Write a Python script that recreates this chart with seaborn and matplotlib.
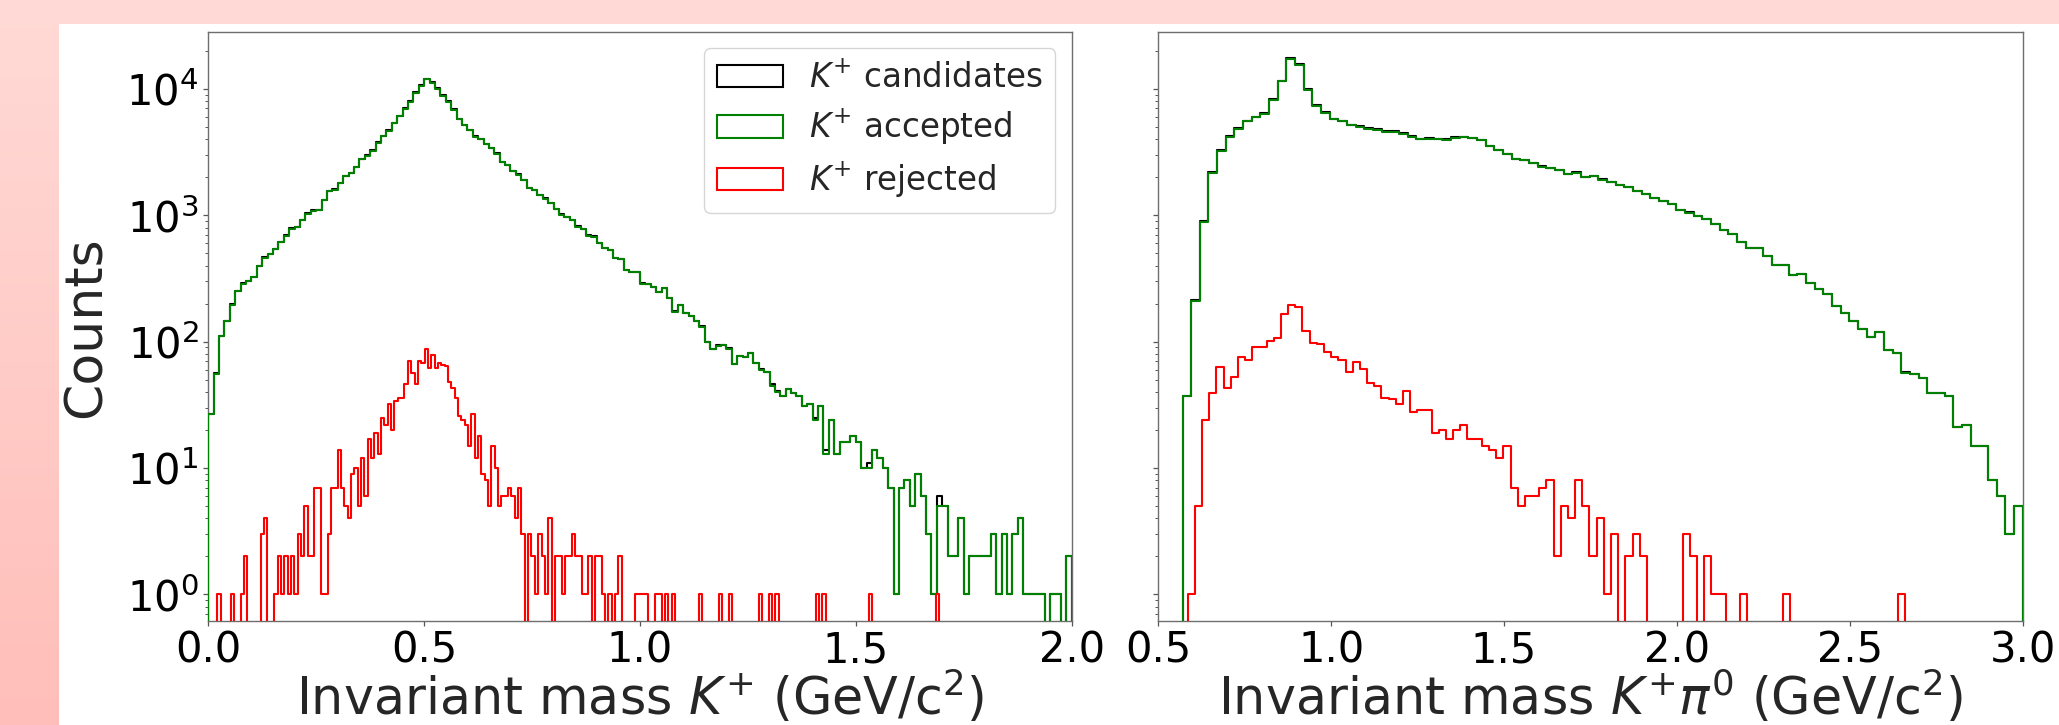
import numpy as np
import pandas as pd
import matplotlib
matplotlib.use("Agg")
import matplotlib.pyplot as plt
from matplotlib.patches import Patch, Rectangle
import seaborn as sns

# ---------------- data (counts per bin) ----------------
# Left panel: invariant mass K+ ; accepted binned 0.0 .. 2.0
left_acc_range = (0.0, 2.0)
left_accepted = [
    27, 56, 110, 145, 196, 253, 287, 301, 323, 397, 457, 490, 543, 615, 692, 785, 807, 914, 1028, 1087,
    1102, 1320, 1560, 1592, 1791, 2028, 2144, 2414, 2772, 2951, 3250, 3736, 4203, 4664, 5357, 6070, 6925, 7848, 9333, 10570,
    11890, 11100, 10000, 8830, 7850, 6830, 5740, 5170, 4730, 4200, 4000, 3660, 3410, 3075, 2640, 2500, 2250, 2100, 1892, 1648,
    1592, 1435, 1357, 1249, 1125, 1014, 966, 914, 812, 779, 692, 678, 603, 551, 535, 457, 450, 366, 353, 358,
    287, 287, 271, 245, 266, 220, 173, 195, 169, 161, 145, 131, 99, 88, 93, 94, 88, 67, 77, 75,
    82, 68, 60, 58, 45, 40, 37, 42, 39, 37, 31, 32, 24, 31, 13, 24, 13, 16, 16, 18,
    16, 10, 10, 14, 12, 10, 7, 1, 7, 8, 5, 9, 6, 3, 1, 5, 5, 2, 2, 4,
    1, 2, 2, 2, 2, 3, 1, 3, 1, 3, 4, 1, 1, 1, 1, 0, 1, 1, 0, 2,
]
# Left panel: rejected binned 0.021 .. 1.693
left_rej_range = (0.021, 1.693)
left_rejected = [
    1, 0, 0, 0, 1, 0, 0, 1, 2, 0, 0, 0, 0, 3, 4, 0, 0, 1, 2, 1,
    2, 1, 2, 1, 3, 2, 5, 2, 2, 7, 7, 1, 1, 3, 7, 7, 14, 7, 5, 4,
    9, 10, 5, 12, 6, 17, 12, 19, 13, 25, 22, 32, 20, 34, 36, 36,
    46, 70, 57, 46, 70, 68, 88, 62, 78, 62, 68, 65, 64, 48, 43,
    36, 26, 24, 22, 15, 27, 12, 18, 9, 8, 5, 15, 10, 5, 6,
    6, 7, 6, 4, 7, 3, 0, 3, 2, 1, 3, 2, 1, 4, 0,
    2, 2, 1, 2, 2, 3, 2, 2, 1, 1, 2, 0, 2, 2, 1,
    0, 1, 0, 1, 2, 0, 0, 0, 0, 1, 1,
    1, 1, 0, 0, 1, 1, 0, 1, 0, 1,
    0, 0, 0, 0, 0, 0, 0, 1, 0, 0,
    0, 0, 0, 1, 0, 0, 1, 0, 0, 0,
    0, 0, 0, 0, 0, 1, 0, 0, 1, 0,
    1, 0, 0, 0, 0, 0, 0, 0, 0, 0,
    0, 0, 1, 0, 1, 0, 0, 0, 0, 0,
    0, 0, 0, 0, 0, 0, 0, 0, 1, 0,
    0, 0, 0, 0, 0, 0, 0, 0, 0, 0,
    0, 0, 0, 0, 0, 0, 0, 0, 1,
]
# Right panel: invariant mass K+ pi0 ; accepted binned 0.570 .. 3.0
right_acc_range = (0.570, 3.0)
right_accepted = [
    37, 209, 883, 2175, 3250, 4143, 4830, 5545, 5945, 6370, 8120, 11480, 17400, 15480, 9860, 7310, 6460, 5740, 5545, 5170,
    5000, 4830, 4730, 4600, 4600, 4415, 4200, 4000, 4050, 4000, 3975, 4115, 4140, 4090, 3920, 3535, 3297, 3034, 2772, 2715,
    2587, 2430, 2363, 2297, 2129, 2175, 2000, 2028, 1919, 1829, 1730, 1671, 1559, 1485, 1367, 1292, 1231, 1109, 1050, 993,
    933, 853, 769, 717, 615, 551, 555, 473, 406, 406, 334, 341, 291, 259, 240, 192, 169, 145, 127, 109,
    120, 86, 82, 57, 56, 52, 39, 39, 37, 21, 22, 15, 15, 8, 6, 3, 5,
]
# Right panel: rejected binned 0.585 .. 2.660
right_rej_range = (0.585, 2.660)
right_rejected = [
    1, 5, 24, 39, 63, 43, 53, 75, 71, 91, 91, 101, 106, 165, 195, 188, 122, 98, 96, 83,
    75, 71, 58, 69, 61, 47, 45, 36, 35, 32, 41, 28, 29, 29, 19, 20, 17, 20, 22, 17,
    17, 15, 14, 12, 15, 7, 5, 6, 6, 7, 8, 2, 5, 4, 8, 5, 2, 4, 1, 3,
    0, 2, 3, 2, 0, 0, 0, 0, 0, 3, 2, 0, 2, 1, 1, 0, 0, 1, 0, 0,
    0, 0, 0, 1, 0, 0, 0, 0, 0, 0, 0, 0, 0, 0, 0, 0, 0, 0, 0, 1,
]

legend_labels = [r"$K^{+}$ candidates", r"$K^{+}$ accepted", r"$K^{+}$ rejected"]
x_labels = [r"Invariant mass $K^{+}$ (GeV/c$^{2}$)",
            r"Invariant mass $K^{+}\pi^{0}$ (GeV/c$^{2}$)"]
y_label = "Counts"

# ---------------- helpers ----------------
def edges_of(counts, rng):
    return np.linspace(rng[0], rng[1], len(counts) + 1)

def rebin(src_counts, src_rng, dst_edges):
    e = edges_of(src_counts, src_rng)
    c = 0.5 * (e[:-1] + e[1:])
    h, _ = np.histogram(c, bins=dst_edges, weights=np.asarray(src_counts, float))
    return h

def draw_hist(ax, counts, edges, color, lw=1.5, z=2):
    counts = np.asarray(counts, float)
    w = edges[1] - edges[0]
    ext_edges = np.concatenate([[edges[0] - w], edges, [edges[-1] + w]])
    ext_counts = np.concatenate([[0.0], counts, [0.0]])
    centers = 0.5 * (ext_edges[:-1] + ext_edges[1:])
    df = pd.DataFrame({"mass": centers, "n": ext_counts})
    sns.histplot(data=df, x="mass", weights="n", bins=[float(v) for v in ext_edges],
                 element="step", fill=False, color=color, linewidth=lw, ax=ax, zorder=z)

# ---------------- figure ----------------
sns.set_style("ticks")
plt.rcParams["font.family"] = ["DejaVu Sans"]
plt.rcParams["mathtext.fontset"] = "dejavusans"

W, H = 2059, 725
fig = plt.figure(figsize=(W / 100, H / 100), dpi=100)

# pink frame background
bg = fig.add_axes([0, 0, 1, 1], zorder=-10)
t = np.linspace(0, 1, 256)[:, None, None]
top_c = np.array([255, 218, 214]) / 255.0
bot_c = np.array([255, 190, 185]) / 255.0
img = top_c[None, None, :] + (bot_c - top_c)[None, None, :] * t
bg.imshow(img, aspect="auto", extent=[0, W, H, 0], interpolation="bilinear")
bg.add_patch(Rectangle((59, 24), W, H, facecolor="white", edgecolor="none"))
bg.set_xlim(0, W)
bg.set_ylim(H, 0)
bg.axis("off")

ax_bottom = 1 - 620.7 / H
ax_h = 588.7 / H
axL = fig.add_axes([208.3 / W, ax_bottom, 863.4 / W, ax_h])
axR = fig.add_axes([1158.3 / W, ax_bottom, 864.4 / W, ax_h], sharey=axL)

panels = [
    (axL, left_accepted, left_acc_range, left_rejected, left_rej_range, (0.0, 2.0)),
    (axR, right_accepted, right_acc_range, right_rejected, right_rej_range, (0.5, 3.0)),
]
for ax, acc, acc_rng, rej, rej_rng, xlim in panels:
    acc_edges = edges_of(acc, acc_rng)
    rej_edges = edges_of(rej, rej_rng)
    cand = np.asarray(acc, float) + rebin(rej, rej_rng, acc_edges)
    draw_hist(ax, cand, acc_edges, "black", z=2)
    draw_hist(ax, acc, acc_edges, "green", z=3)
    draw_hist(ax, rej, rej_edges, "red", z=4)
    ax.set_xlim(*xlim)
    ax.set_facecolor("white")
    for s in ax.spines.values():
        s.set_visible(True)
        s.set_color("#6e6e6e")
        s.set_linewidth(1.0)
    ax.tick_params(axis="both", which="major", labelsize=30, length=3.5, width=0.9,
                   color="#555555", labelcolor="black")
    ax.tick_params(axis="x", which="major", pad=2.5)
    ax.tick_params(axis="both", which="minor", length=2.0, width=0.7, color="#555555")

axL.set_yscale("log")
axL.set_ylim(0.62, 2.82e4)
axL.set_xticks([0.0, 0.5, 1.0, 1.5, 2.0])
axR.set_xticks([0.5, 1.0, 1.5, 2.0, 2.5, 3.0])
axR.tick_params(labelleft=False)

axL.set_xlabel(x_labels[0], fontsize=36.5)
axR.set_xlabel(x_labels[1], fontsize=36.5)
axL.set_ylabel(y_label, fontsize=37.5)
axR.set_ylabel("")
for ax in (axL, axR):
    ax.xaxis.set_label_coords(0.5, (620.7 - 714.5) / 588.7)
    ax.xaxis.label.set_verticalalignment("baseline")
axL.yaxis.set_label_coords((101 - 208.3) / 863.4, (620.7 - 327) / 588.7)
axL.yaxis.label.set_verticalalignment("baseline")

handles = [Patch(facecolor="none", edgecolor=c, linewidth=1.5, label=l)
           for c, l in zip(["black", "green", "red"], legend_labels)]
axL.legend(handles=handles, loc="upper right", fontsize=23.5, labelspacing=0.4,
           framealpha=0.8)

fig.savefig("out.png", dpi=100)
